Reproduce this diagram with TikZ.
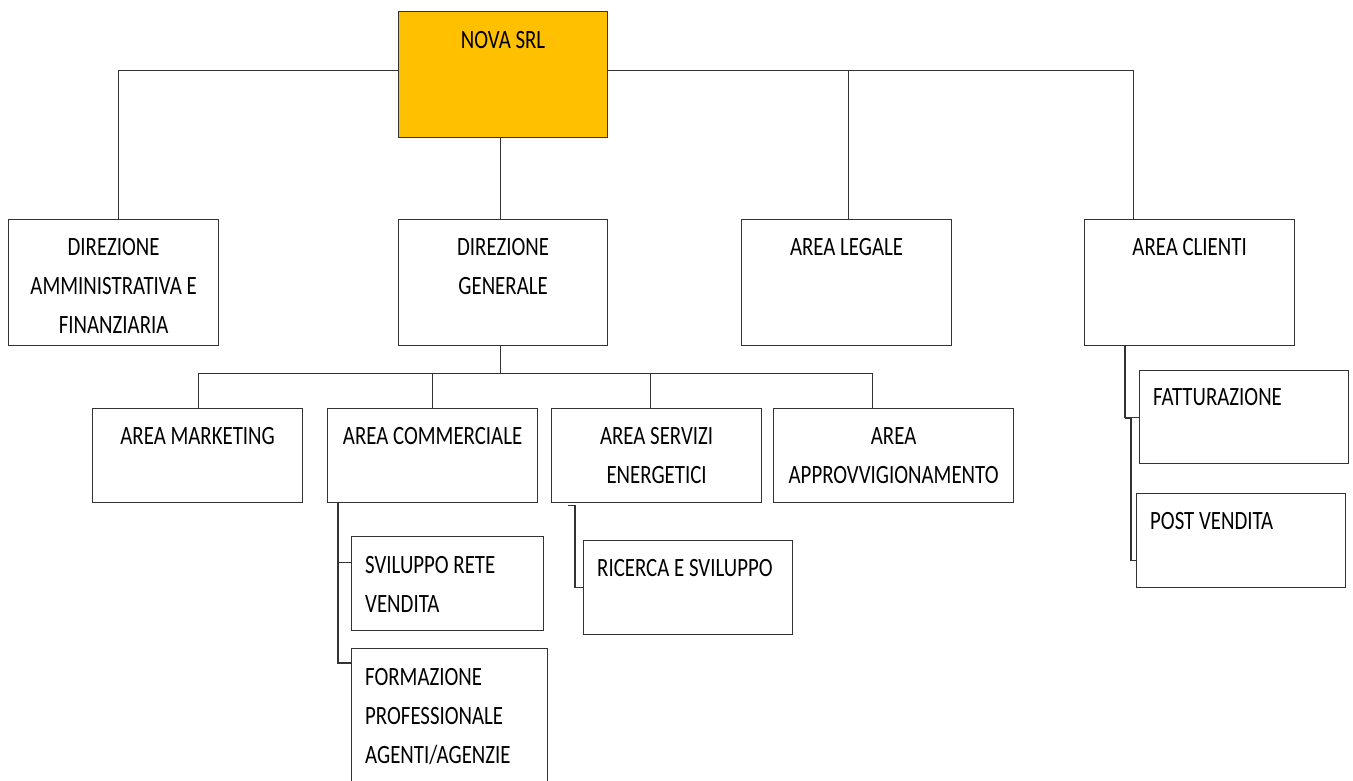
\documentclass[tikz,border=0pt]{standalone}
\usepackage{fontspec}
\setmainfont{Carlito}[FakeStretch=0.79]
\newcommand\fnt{\fontsize{26.4pt}{39pt}\selectfont}
\newcommand\fst{\rule{0pt}{30pt}}
\definecolor{novagold}{HTML}{FFC000}
\definecolor{linegray}{HTML}{333333}
\tikzset{
  orgbox/.style={draw=linegray, line width=1.2pt, inner sep=0pt, anchor=north west, fill=white},
  ctxt/.style={inner sep=0pt, align=center, anchor=north, font=\fnt, text=black},
  ltxt/.style={inner sep=0pt, align=left, anchor=north west, font=\fnt, text=black},
  conn/.style={draw=linegray, line width=1.2pt}
}
\begin{document}
\begin{tikzpicture}[x=1pt,y=-1pt]
\useasboundingbox (0,0) rectangle (1353,780);
% boxes
\node[orgbox, fill=novagold, minimum width=209pt, minimum height=126pt] (nova) at (398,11) {};
\node[orgbox, minimum width=210pt, minimum height=126pt] (dam) at (8,219) {};
\node[orgbox, minimum width=209pt, minimum height=126pt] (dg) at (398,219) {};
\node[orgbox, minimum width=210pt, minimum height=126pt] (legal) at (741,219) {};
\node[orgbox, minimum width=210pt, minimum height=126pt] (clienti) at (1084,219) {};
\node[orgbox, minimum width=210pt, minimum height=94pt] (mkt) at (92,408) {};
\node[orgbox, minimum width=210pt, minimum height=94pt] (comm) at (327,408) {};
\node[orgbox, minimum width=210pt, minimum height=94pt] (serv) at (551,408) {};
\node[orgbox, minimum width=240pt, minimum height=94pt] (appr) at (773,408) {};
\node[orgbox, minimum width=192pt, minimum height=94pt] (svil) at (351,536) {};
\node[orgbox, minimum width=196pt, minimum height=145pt] (form) at (351,648) {};
\node[orgbox, minimum width=209pt, minimum height=94pt] (rsv) at (583,540) {};
\node[orgbox, minimum width=209pt, minimum height=93pt] (fatt) at (1139,370) {};
\node[orgbox, minimum width=209pt, minimum height=94pt] (post) at (1136,493) {};
% texts
\node[ctxt] (tnova) at ([yshift=-7pt]nova.north) {\fst NOVA SRL};
\node[ctxt] (tdam) at ([yshift=-6pt]dam.north) {\fst DIREZIONE\\AMMINISTRATIVA E\\FINANZIARIA};
\node[ctxt] (tdg) at ([yshift=-6pt]dg.north) {\fst DIREZIONE\\GENERALE};
\node[ctxt] (tlegal) at ([yshift=-6pt]legal.north) {\fst AREA LEGALE};
\node[ctxt] (tclienti) at ([yshift=-6pt]clienti.north) {\fst AREA CLIENTI};
\node[ctxt] (tmkt) at ([yshift=-6pt]mkt.north) {\fst AREA MARKETING};
\node[ctxt] (tcomm) at ([yshift=-6pt]comm.north) {\fst AREA COMMERCIALE};
\node[ctxt] (tserv) at ([yshift=-6pt]serv.north) {\fst AREA SERVIZI\\ENERGETICI};
\node[ctxt] (tappr) at ([yshift=-6pt]appr.north) {\fst AREA\\APPROVVIGIONAMENTO};
\node[ltxt] (tsvil) at ([xshift=14pt,yshift=-7pt]svil.north west) {\fst SVILUPPO RETE\\VENDITA};
\node[ltxt] (tform) at ([xshift=14pt,yshift=-7pt]form.north west) {\fst FORMAZIONE\\PROFESSIONALE\\AGENTI/AGENZIE};
\node[ltxt] (trsv) at ([xshift=14pt,yshift=-6pt]rsv.north west) {\fst RICERCA E SVILUPPO};
\node[ltxt] (tfatt) at ([xshift=14pt,yshift=-5pt]fatt.north west) {\fst FATTURAZIONE};
\node[ltxt] (tpost) at ([xshift=14pt,yshift=-6pt]post.north west) {\fst POST VENDITA};
% connectors level 1
\draw[conn] ([yshift=4pt]nova.west) -| ([xshift=5pt]dam.north);
\draw[conn] ([yshift=4pt]nova.east) -| ([xshift=-56pt]clienti.north);
\draw[conn] ([yshift=4pt]nova.east) -| ([xshift=2pt]legal.north);
\draw[conn] ([xshift=-2.5pt]nova.south) -- ([xshift=-2.5pt]dg.north);
% connectors level 2
\draw[conn] ([xshift=-2.5pt]dg.south) -- ++(0,27) coordinate (bus);
\draw[conn] ([xshift=1pt]mkt.north) |- (bus) -| ([xshift=-21pt]appr.north);
\draw[conn] (comm.north) -- (comm.north |- bus);
\draw[conn] ([xshift=-6pt]serv.north) -- ([xshift=-6pt]serv.north |- bus);
% sub connectors
\draw[conn] ([xshift=11pt]comm.south west) |- ([yshift=21pt]svil.west);
\draw[conn] ([xshift=11pt]comm.south west) |- ([yshift=-15pt]form.north west);
\draw[conn] ([xshift=17pt,yshift=-2pt]serv.south west) -- ++(7,0) |- (rsv.west);
\draw[conn] ([xshift=41pt]clienti.south west) |- (fatt.west);
\draw[conn] ([xshift=41pt,yshift=-1pt]clienti.south west |- fatt.west) -- ++(6,0) |- ([yshift=-20pt]post.west);
\end{tikzpicture}
\end{document}
